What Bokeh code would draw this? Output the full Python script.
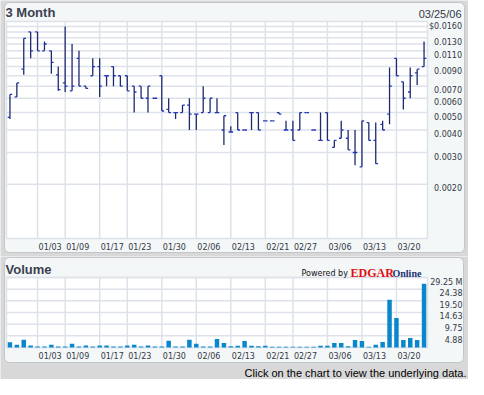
import math
from bokeh.plotting import figure
from bokeh.layouts import column
from bokeh.models import Range1d, Grid, LinearScale
from bokeh.core.properties import value
from bokeh.embed import file_html
from bokeh.resources import INLINE
import pandas as pd

# ---------------- data ----------------
holidays = ["2006-01-02", "2006-01-16", "2006-02-20"]
days = [d.strftime("%m/%d") for d in pd.bdate_range("2005-12-27", "2006-03-24")
        if d.strftime("%Y-%m-%d") not in holidays]

opens = [0.0047, 0.0061, 0.0087, 0.0140, 0.0140, 0.0110, 0.0110, 0.0081, 0.0073, 0.0066,
         0.0100, 0.0070, 0.0080, 0.0090, 0.0080, 0.0090, 0.0080, 0.0080, 0.0070, 0.0070,
         0.0060, 0.0060, 0.0080, 0.0052, 0.0050, 0.0050, 0.0055, 0.0049, 0.0050, 0.0050,
         0.0050, 0.0040, 0.0039, 0.0050, 0.0040, 0.0050, 0.0050, 0.0045, 0.0045, 0.0050,
         0.0040, 0.0040, 0.0040, 0.0050, 0.0040, 0.0035, 0.0050, 0.0032, 0.0036, 0.0036,
         0.0030, 0.0025, 0.0044, 0.0035, 0.0043, 0.0049, 0.0100, 0.0074, 0.0065, 0.0083,
         0.0090]
highs = [0.0063, 0.0073, 0.0129, 0.0140, 0.0140, 0.0124, 0.0110, 0.0090, 0.0150, 0.0120,
         0.0110, 0.0070, 0.0100, 0.0100, 0.0080, 0.0090, 0.0080, 0.0080, 0.0070, 0.0070,
         0.0070, 0.0060, 0.0080, 0.0060, 0.0050, 0.0055, 0.0060, 0.0049, 0.0070, 0.0060,
         0.0060, 0.0048, 0.0042, 0.0050, 0.0040, 0.0050, 0.0050, 0.0045, 0.0045, 0.0050,
         0.0045, 0.0045, 0.0050, 0.0050, 0.0040, 0.0050, 0.0050, 0.0035, 0.0045, 0.0040,
         0.0040, 0.0045, 0.0044, 0.0044, 0.0045, 0.0089, 0.0100, 0.0074, 0.0089, 0.0087,
         0.0124]
lows = [0.0046, 0.0061, 0.0081, 0.0100, 0.0110, 0.0110, 0.0082, 0.0066, 0.0065, 0.0066,
        0.0070, 0.0068, 0.0080, 0.0061, 0.0070, 0.0070, 0.0070, 0.0066, 0.0050, 0.0060,
        0.0050, 0.0060, 0.0051, 0.0050, 0.0046, 0.0050, 0.0040, 0.0040, 0.0050, 0.0050,
        0.0050, 0.0033, 0.0039, 0.0040, 0.0040, 0.0040, 0.0040, 0.0045, 0.0045, 0.0049,
        0.0040, 0.0035, 0.0040, 0.0050, 0.0040, 0.0035, 0.0035, 0.0032, 0.0036, 0.0031,
        0.00255, 0.0025, 0.0035, 0.0026, 0.0040, 0.0043, 0.0080, 0.0052, 0.0060, 0.0071,
        0.0090]
closes = [0.0063, 0.0073, 0.0129, 0.0110, 0.0110, 0.0120, 0.0095, 0.0067, 0.0070, 0.0070,
          0.0070, 0.0068, 0.0090, 0.0070, 0.0080, 0.0080, 0.0070, 0.0066, 0.0065, 0.0060,
          0.0070, 0.0060, 0.0051, 0.0050, 0.0050, 0.0055, 0.0049, 0.0049, 0.0060, 0.0060,
          0.0050, 0.0048, 0.0039, 0.0040, 0.0040, 0.0050, 0.0040, 0.0045, 0.0045, 0.0049,
          0.0040, 0.0035, 0.0050, 0.0050, 0.0040, 0.0035, 0.0035, 0.0035, 0.0040, 0.0031,
          0.0030, 0.0045, 0.0035, 0.0026, 0.0040, 0.0070, 0.0080, 0.0060, 0.0080, 0.0087,
          0.0100]
volumes_m = [2.15, 1.2, 3.2, 0.8, 0.4, 0.4, 1.2, 0.4, 0.4, 1.6,
             0.4, 0.8, 0.4, 0.8, 0.8, 0.4, 0.4, 0.8, 1.2, 0.4,
             0.8, 0.4, 0.4, 2.8, 0.4, 0.4, 3.2, 1.6, 0.4, 0.4,
             3.6, 1.9, 0.5, 0.7, 2.7, 0.7, 0.5, 0.7, 0.3, 0.3,
             0.3, 0.3, 0.3, 0.3, 0.3, 0.7, 0.7, 1.9, 1.9, 0.5,
             3.1, 2.7, 0.3, 1.1, 2.3, 20.0, 12.3, 3.1, 4.0, 3.1,
             26.6]

date_ticks = ["01/03", "01/09", "01/17", "01/23", "01/30", "02/06",
              "02/13", "02/21", "02/27", "03/06", "03/13", "03/20"]
price_grid = [0.002, 0.003, 0.004, 0.005, 0.006, 0.007, 0.008, 0.009, 0.010,
              0.011, 0.012, 0.013, 0.014, 0.015]
price_labels = [0.016, 0.013, 0.011, 0.009, 0.007, 0.006, 0.005, 0.004, 0.003, 0.002]
vol_labels = [29.25, 24.38, 19.50, 14.63, 9.75, 4.88]
price_min, price_max = 0.001, 0.016
vol_max = 29.25
as_of = "03/25/06"

# ---------------- style / layout (canvas pixels) ----------------
BG = "#d8d8d8"
PANEL = "#f3f7f7"
PANEL_LINE = "#c2c6cb"
GRID = "#dde2ea"
TXT = "#333844"
TITLE = "#3b4150"
BAR = "#1d2a6c"
TICK = "#1f35b8"
VOL = "#0a87cc"
TF = value("DejaVu Sans")
LF = value("Liberation Sans")
SF = value("Liberation Serif")

W = 468
HA, HB = 256, 123
FL, FR = 6, 427          # plot-area left/right (px)
A_T, A_B = 21, 238       # price plot-area top/bottom (px)
B_T, B_B = 21, 91        # volume plot-area top/bottom (px)

n = len(days)
xs = list(range(n))
tick_idx = [days.index(t) for t in date_ticks]
u = n / (FR - FL)
x_lo, x_hi = -0.5, n - 0.5


def make_fig(height, y_range, y_type):
    p = figure(width=W, height=height,
               x_range=Range1d(x_lo - FL * u, x_hi + (W - FR) * u),
               y_range=y_range, y_axis_type=y_type, output_backend="svg",
               toolbar_location=None, x_axis_location=None, y_axis_location=None,
               min_border_left=0, min_border_right=0, min_border_top=0,
               min_border_bottom=0)
    p.center = [r for r in p.center if not isinstance(r, Grid)]
    p.border_fill_color = BG
    p.background_fill_color = BG
    p.outline_line_color = None
    p.extra_x_ranges = {"px": Range1d(0, W)}
    p.extra_y_ranges = {"py": Range1d(height, 0)}
    p.extra_x_scales = {"px": LinearScale()}
    p.extra_y_scales = {"py": LinearScale()}
    return p


def panel(p, left, right, top, bottom):
    kw = dict(left=left, right=right, top=top, bottom=bottom,
              fill_color=PANEL, line_color=PANEL_LINE, line_width=1,
              x_range_name="px", y_range_name="py")
    try:
        p.quad(border_radius=5, **kw)
    except Exception:
        p.quad(**kw)


def txt(p, x, y, s, font=TF, size="8px", color=TXT, align="left",
        baseline="middle", style="normal", xr="px", yr="py"):
    p.text(x=[x], y=[y], text=[s], text_font=font, text_font_size=size,
           text_color=color, text_align=align, text_baseline=baseline,
           text_font_style=style, x_range_name=xr, y_range_name=yr)


def plot_area(p, y0, y1, yticks):
    p.quad(left=x_lo, right=x_hi, bottom=y0, top=y1, fill_color="white",
           line_color=None)
    p.segment(x0=[x_lo] * len(yticks), x1=[x_hi] * len(yticks), y0=yticks, y1=yticks,
              line_color=GRID, line_width=1.5)
    p.segment(x0=tick_idx, x1=tick_idx, y0=[y0] * len(tick_idx), y1=[y1] * len(tick_idx),
              line_color=GRID, line_width=1.5)
    p.quad(left=x_lo, right=x_hi, bottom=y0, top=y1, fill_color=None,
           line_color=GRID, line_width=1.5)


def x_labels(p, ypx):
    for t, i in zip(date_ticks, tick_idx):
        p.text(x=[i], y=[ypx], text=[t], x_offset=1, text_font=TF, text_font_size="8px",
               text_color=TXT, text_align="left", text_baseline="middle",
               y_range_name="py")


# ---------------- price chart ----------------
k = math.log(price_max / price_min) / (A_B - A_T)
pa = make_fig(HA, Range1d(price_min * math.exp(-(HA - A_B) * k),
                          price_max * math.exp(A_T * k)), "log")
panel(pa, 4, 464, 2, 252)
plot_area(pa, price_min, price_max, price_grid)

pa.segment(x0=xs, x1=xs, y0=lows, y1=highs, line_color=BAR, line_width=1.3)
pa.segment(x0=[x - 0.33 for x in xs], x1=xs, y0=opens, y1=opens,
           line_color=TICK, line_width=1.3)
pa.segment(x0=xs, x1=[x + 0.33 for x in xs], y0=closes, y1=closes,
           line_color=TICK, line_width=1.3)

for j, v in enumerate(price_labels):
    s = ("$" if j == 0 else "") + f"{v:.4f}"
    pa.text(x=[461.5], y=[v], text=[s], text_font=TF, text_font_size="8px",
            text_color=TXT, text_align="right", text_baseline="top", x_range_name="px")
x_labels(pa, 246.5)
txt(pa, 5, 12, "3 Month", font=LF, size="13px", color=TITLE, style="bold")
txt(pa, 461, 13.5, as_of, font=LF, size="11px", align="right")

# ---------------- volume chart ----------------
uv = vol_max / (B_B - B_T)
pb = make_fig(HB, Range1d(-(HB - B_B) * uv, vol_max + B_T * uv), "linear")
panel(pb, 4, 463, 1, 106)
plot_area(pb, 0, vol_max, vol_labels)
pb.vbar(x=xs, top=volumes_m, width=0.65, fill_color=VOL, line_color=None)

for j, v in enumerate(vol_labels):
    s = f"{v:.2f}" + (" M" if j == 0 else "")
    pb.text(x=[462], y=[v], text=[s], text_font=TF, text_font_size="8px",
            text_color=TXT, text_align="right", text_baseline="top", x_range_name="px")
x_labels(pb, 99.5)
txt(pb, 5, 12.5, "Volume", font=LF, size="13px", color=TITLE, style="bold")
txt(pb, 301, 16.5, "Powered by", size="8px", color="#111111", baseline="alphabetic")
txt(pb, 350, 16.5, "EDGAR", font=SF, size="12px", color="#e01010", style="bold",
    baseline="alphabetic")
txt(pb, 392, 16.5, "Online", font=SF, size="10px", color="#1a3470", style="bold",
    baseline="alphabetic")
txt(pb, 466, 116, "Click on the chart to view the underlying data.", font=LF,
    size="11px", color="#000000", align="right")

layout = column(pa, pb, spacing=0)
open("out.html", "w").write(file_html(layout, INLINE))
